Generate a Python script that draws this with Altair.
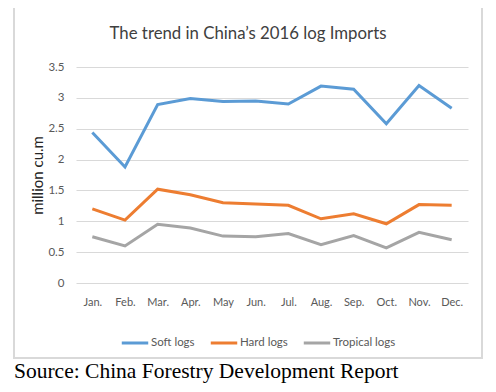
import altair as alt
import pandas as pd

months = ["Jan.", "Feb.", "Mar.", "Apr.", "May", "Jun.", "Jul.", "Aug.", "Sep.", "Oct.", "Nov.", "Dec."]
soft = [2.44, 1.88, 2.89, 2.99, 2.94, 2.95, 2.90, 3.19, 3.14, 2.58, 3.20, 2.83]
hard = [1.20, 1.02, 1.52, 1.43, 1.30, 1.28, 1.26, 1.04, 1.12, 0.96, 1.27, 1.26]
tropical = [0.75, 0.60, 0.95, 0.89, 0.76, 0.75, 0.80, 0.62, 0.77, 0.57, 0.82, 0.70]
series = ["Soft logs", "Hard logs", "Tropical logs"]
colors = ["#5b9bd5", "#ed7d31", "#a5a5a5"]
title_text = ["The trend in China\u2019s 2016 log Imports"]
source_text = ["Source: China Forestry Development Report"]

rows = []
for name, vals in zip(series, [soft, hard, tropical]):
    for m, v in zip(months, vals):
        rows.append({"month": m, "value": v, "series": name})
df = pd.DataFrame(rows)

FONT = "Lato"

lines = alt.Chart(df).mark_line(strokeWidth=3).encode(
    x=alt.X("month:N", sort=months, title=None,
            scale=alt.Scale(type="point", padding=0.5),
            axis=alt.Axis(labelAngle=0, ticks=False, domain=False, grid=False,
                          labelPadding=13, labelFont=FONT, labelFontSize=11,
                          labelColor="#595959")),
    y=alt.Y("value:Q", title="million cu.m",
            scale=alt.Scale(domain=[0, 3.5], nice=False),
            axis=alt.Axis(values=[0, 0.5, 1, 1.5, 2, 2.5, 3, 3.5], format="~g",
                          ticks=False, domain=False,
                          gridColor="#d9d9d9", gridWidth=1, labelPadding=12,
                          labelFont=FONT, labelFontSize=11.5, labelColor="#595959",
                          titleFont=FONT, titleFontSize=15, titleFontWeight="normal",
                          titleColor="#262626", titlePadding=2)),
    color=alt.Color("series:N", sort=series,
                    scale=alt.Scale(domain=series, range=colors),
                    legend=alt.Legend(title=None, orient="none", direction="horizontal",
                                      legendX=44, legendY=261,
                                      symbolType="stroke", symbolSize=700,
                                      symbolStrokeWidth=3, columnPadding=9,
                                      labelFont=FONT, labelFontSize=11.5,
                                      labelColor="#595959", labelOffset=1)),
)

border = alt.Chart(pd.DataFrame({"k": [0]})).mark_rect(
    fill=None, stroke="#d9d9d9", strokeWidth=2
).encode(
    x=alt.value(-62), x2=alt.value(406), y=alt.value(-60), y2=alt.value(291)
)

title = alt.Chart(pd.DataFrame({"t": title_text})).mark_text(
    font=FONT, fontSize=16.8, color="#404040", align="center", baseline="middle"
).encode(
    text="t:N", x=alt.value(172), y=alt.value(-33)
)

source = alt.Chart(pd.DataFrame({"t": source_text})).mark_text(
    font="Liberation Serif", fontSize=21.5, color="#000000", align="left", baseline="alphabetic"
).encode(
    text="t:N", x=alt.value(-62), y=alt.value(311)
)

chart = alt.layer(border, lines, title, source).properties(
    width=392, height=216,
    autosize=alt.AutoSizeParams(type="none"),
    padding={"left": 68, "top": 59, "right": 20, "bottom": 105},
).configure_view(stroke=None)

chart.save("out.html", embed_options={"renderer": "svg", "actions": False})
